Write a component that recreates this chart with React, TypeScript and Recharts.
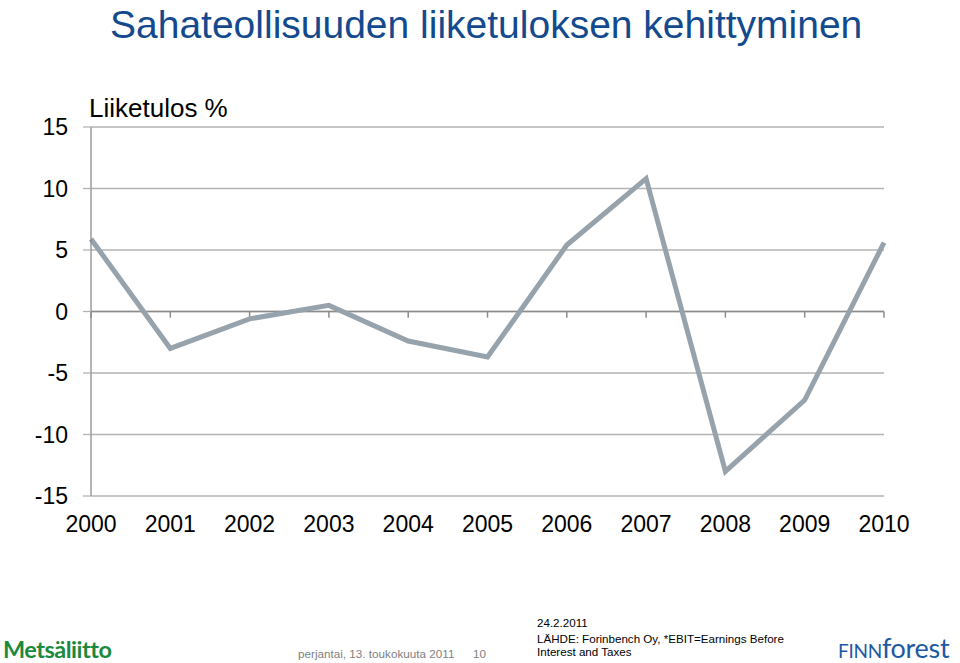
import React from "react";
import { LineChart, Line, XAxis, YAxis, CartesianGrid, ReferenceLine } from "recharts";

const years = ["2000", "2001", "2002", "2003", "2004", "2005", "2006", "2007", "2008", "2009", "2010"];
const ebitPct = [5.9, -3.0, -0.6, 0.5, -2.4, -3.7, 5.4, 10.8, -13.0, -7.2, 5.6];
const yTicks = [-15, -10, -5, 0, 5, 10, 15];

const data = years.map((year, i) => ({ year, value: ebitPct[i] }));

const FONT = "'Liberation Sans', Arial, Helvetica, sans-serif";
const AXIS = "#8c8c8c";
const GRID = "#b3b3b3";

export default function App() {
  return (
    <div
      style={{
        position: "absolute",
        left: 0,
        top: 0,
        width: 960,
        height: 663,
        background: "#fff",
        fontFamily: FONT,
        overflow: "hidden",
      }}
    >
      <div
        style={{
          position: "absolute",
          left: 110,
          top: 3,
          lineHeight: "44px",
          fontSize: 39,
          color: "#134a8e",
          whiteSpace: "nowrap",
        }}
      >
        Sahateollisuuden liiketuloksen kehittyminen
      </div>
      <div style={{ position: "absolute", left: 89, top: 93, fontSize: 26, color: "#000" }}>
        Liiketulos %
      </div>

      <div style={{ position: "absolute", left: 0, top: 0 }}>
        <LineChart
          width={960}
          height={560}
          data={data}
          margin={{ top: 127, right: 76, bottom: 24, left: 0 }}
        >
          <CartesianGrid horizontal vertical={false} stroke={GRID} strokeWidth={1.3} />
          <XAxis
            dataKey="year"
            interval={0}
            axisLine={false}
            tickLine={false}
            tickSize={0}
            tickMargin={20}
            height={40}
            tick={{ fontSize: 23, fill: "#000", fontFamily: FONT }}
          />
          <YAxis
            type="number"
            domain={[-15, 15]}
            ticks={yTicks}
            interval={0}
            width={91}
            axisLine={{ stroke: AXIS, strokeWidth: 1.3 }}
            tickLine={{ stroke: GRID, strokeWidth: 1.3 }}
            tickSize={8}
            tickMargin={15}
            tick={{ fontSize: 23, fill: "#000", fontFamily: FONT }}
          />
          <ReferenceLine y={0} stroke={AXIS} strokeWidth={1.5} />
          {years.map((y) => (
            <ReferenceLine
              key={y}
              segment={[
                { x: y, y: 0 },
                { x: y, y: -0.5 },
              ]}
              stroke={AXIS}
              strokeWidth={1.5}
            />
          ))}
          <Line
            type="linear"
            dataKey="value"
            stroke="#96a2ac"
            strokeWidth={5}
            dot={false}
            isAnimationActive={false}
          />
        </LineChart>
      </div>

      <div
        style={{
          position: "absolute",
          left: 3,
          top: 635,
          fontSize: 23.5,
          fontWeight: 700,
          color: "#1b8a3e",
          fontFamily: "Lato, 'Open Sans', sans-serif",
          letterSpacing: -0.5,
        }}
      >
        Metsäliitto
      </div>
      <div style={{ position: "absolute", left: 298, top: 647, fontSize: 11.7, color: "#7f7f7f" }}>
        perjantai, 13. toukokuuta 2011
      </div>
      <div style={{ position: "absolute", left: 473, top: 647, fontSize: 11.7, color: "#7f7f7f" }}>
        10
      </div>
      <div style={{ position: "absolute", left: 537, top: 616, fontSize: 11.6, color: "#000" }}>
        24.2.2011
      </div>
      <div
        style={{
          position: "absolute",
          left: 537,
          top: 633,
          fontSize: 11.6,
          lineHeight: "12.5px",
          color: "#000",
        }}
      >
        LÄHDE: Forinbench Oy, *EBIT=Earnings Before
        <br />
        Interest and Taxes
      </div>
      <div
        style={{
          position: "absolute",
          left: 838,
          top: 631,
          fontSize: 27,
          color: "#1d5aa3",
          fontFamily: "Lato, 'Open Sans', sans-serif",
          letterSpacing: -0.3,
          whiteSpace: "nowrap",
        }}
      >
        <span style={{ fontSize: 19 }}>FINN</span>forest
      </div>
    </div>
  );
}
